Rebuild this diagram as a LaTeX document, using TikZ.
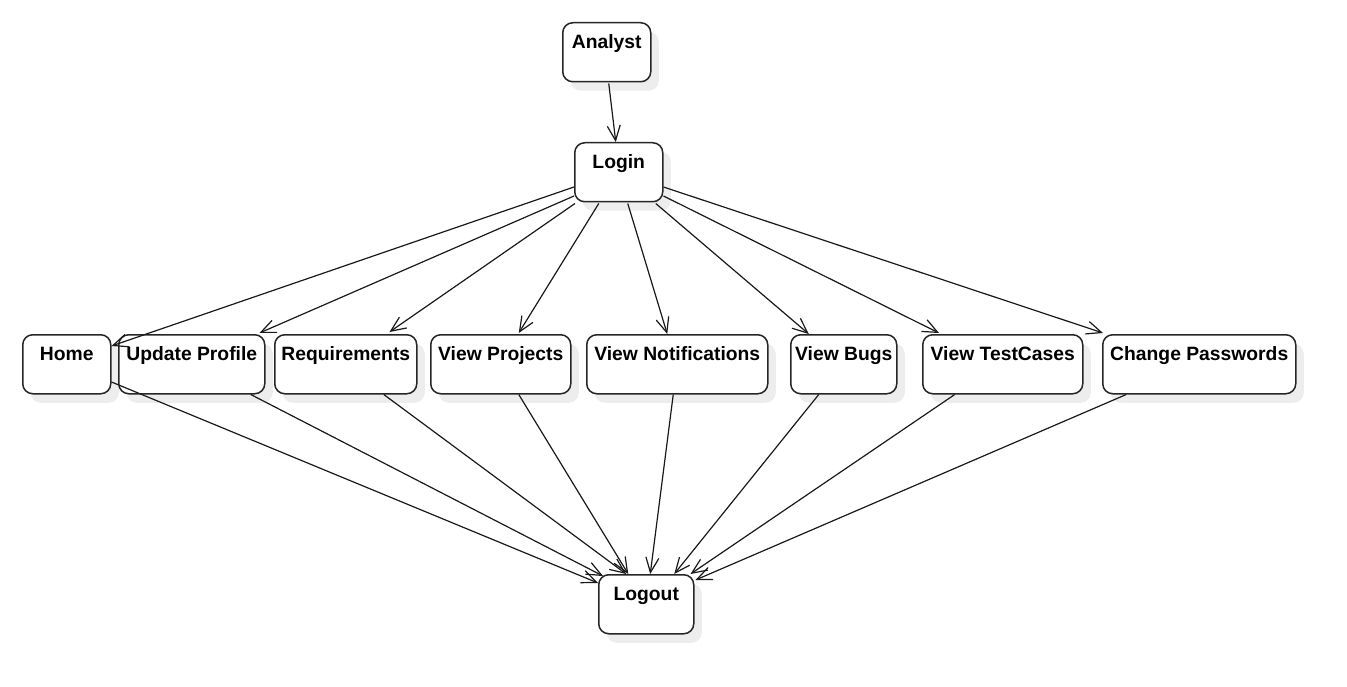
\documentclass[tikz,border=0pt]{standalone}
\usepackage{fontspec}
\setmainfont{Liberation Sans}
\usetikzlibrary{arrows.meta,shadows,calc}
\begin{document}
\begin{tikzpicture}[x=1pt,y=-1pt,
  box/.style={draw=black!85, line width=1.5pt, rounded corners=10pt, fill=white,
    anchor=north west, minimum height=59pt, inner sep=0pt,
    text height=26pt, text depth=33pt,
    font=\fontsize{19.3}{23}\selectfont\bfseries,
    drop shadow={shadow xshift=8pt, shadow yshift=-9pt, fill=black!7, opacity=1}},
  conn/.style={draw=black!90, line width=1.2pt, -{Straight Barb[length=15pt,width=13pt,line width=1.2pt]}}
]
\useasboundingbox (0,0) rectangle (1347,687);
\node[box, minimum width=88pt]  (analyst) at (562,22)  {Analyst};
\node[box, minimum width=88pt]  (login)   at (574,142) {Login};
\node[box, minimum width=88pt]  (home)    at (22,334)  {Home};
\node[box, minimum width=146pt] (upd)     at (118,334) {Update Profile};
\node[box, minimum width=142pt] (req)     at (274,334) {Requirements};
\node[box, minimum width=140pt] (vp)      at (430,334) {View Projects};
\node[box, minimum width=181pt] (vn)      at (586,334) {View Notifications};
\node[box, minimum width=106pt] (vb)      at (790,334) {View Bugs};
\node[box, minimum width=160pt] (vt)      at (922,334) {View TestCases};
\node[box, minimum width=193pt] (cp)      at (1102,334) {Change Passwords};
\node[box, minimum width=95pt]  (logout)  at (598,574) {Logout};

\draw[conn] ($(analyst.south)+(2,1)$) -- ($(login.north)+(-3,0)$);

\draw[conn] ($(login.north west)+(0,45)$) -- ($(home.north east)+(0,12)$);
\draw[conn] ($(login.north west)+(0,54)$) -- ($(upd.north east)+(-6,-1)$);
\draw[conn] ($(login.south west)+(1,1)$) -- ($(req.north east)+(-28,-2)$);
\draw[conn] ($(login.south)+(-20,1)$) -- ($(vp.north)+(18,-1)$);
\draw[conn] ($(login.south)+(9,1)$) -- ($(vn.north)+(-10,0)$);
\draw[conn] ($(login.south)+(37,1)$) -- ($(vb.north)+(-35,0)$);
\draw[conn] ($(login.north east)+(0,54)$) -- ($(vt.north west)+(17,-1)$);
\draw[conn] ($(login.north east)+(0,45)$) -- ($(cp.north west)+(1,-1)$);

\draw[conn] ($(home.north east)+(0,48)$) -- ($(logout.north west)+(0,9)$);
\draw[conn] ($(upd.south)+(59,0)$) -- ($(logout.north west)+(5,2)$);
\draw[conn] ($(req.south)+(38,0)$) -- ($(logout.north)+(-20,0)$);
\draw[conn] ($(vp.south)+(18,0)$) -- ($(logout.north)+(-18,0)$);
\draw[conn] ($(vn.south)+(-4,0)$) -- ($(logout.north)+(4,0)$);
\draw[conn] ($(vb.south)+(-25,0)$) -- ($(logout.north)+(28,0)$);
\draw[conn] ($(vt.south)+(-48,0)$) -- ($(logout.north east)+(-4,0)$);
\draw[conn] ($(cp.south)+(-73,0)$) -- ($(logout.north east)+(1,6)$);
\end{tikzpicture}
\end{document}
